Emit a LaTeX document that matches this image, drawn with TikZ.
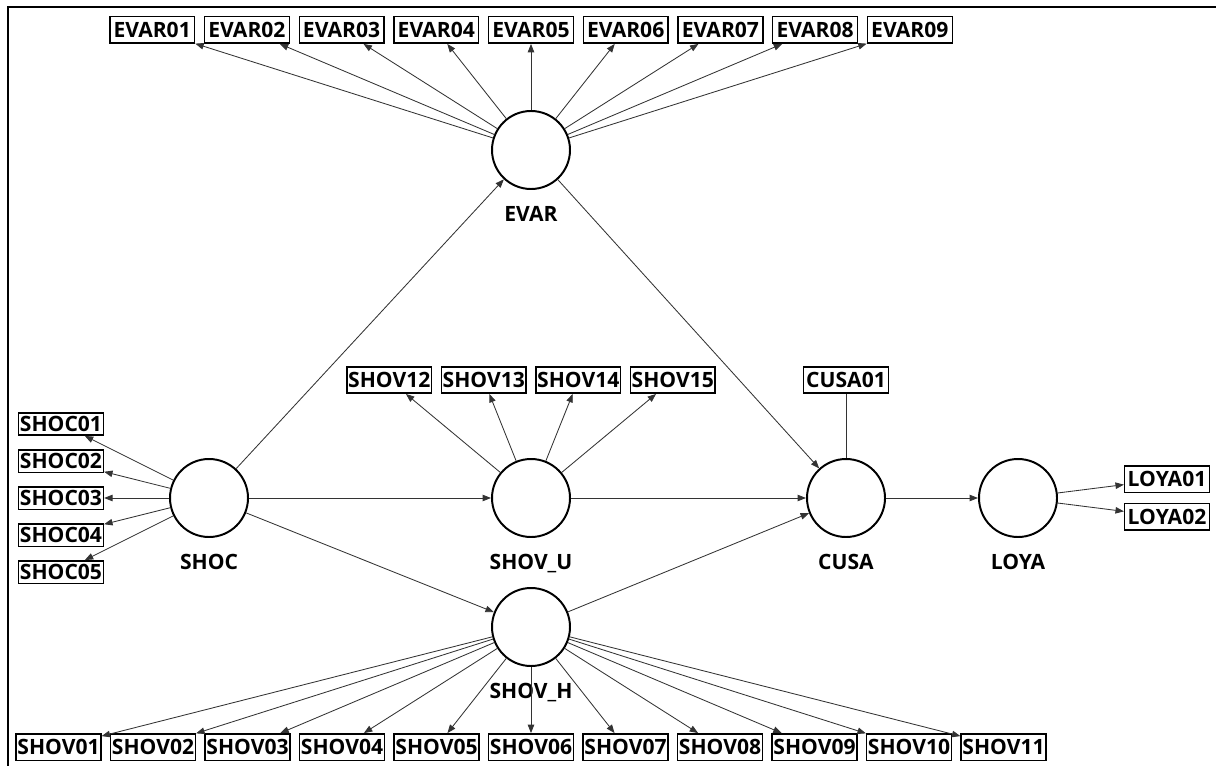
\documentclass[tikz,border=0pt]{standalone}
\usepackage{fontspec}
\setmainfont{Open Sans}
\usetikzlibrary{arrows.meta, positioning, calc}
\definecolor{kline}{HTML}{333333}

\begin{document}
\begin{tikzpicture}[x=1cm, y=1cm,
  ind/.style={draw, line width=1pt, font=\fontsize{15}{17}\selectfont\bfseries,
    inner sep=0.5pt, minimum width=2.12cm, minimum height=0.66cm},
  lat/.style={draw, circle, line width=1.4pt, minimum size=1.95cm, inner sep=0pt},
  lbl/.style={font=\fontsize{15}{17}\selectfont\bfseries},
  rel/.style={draw=kline, line width=0.6pt, -{Triangle[length=6pt, width=4.6pt]}}]
\useasboundingbox (0,0) rectangle (30.4,19.125);
\clip (0,0) rectangle (30.4,19.125);
\draw[line width=1.5pt] (0.2,-1) rectangle (31,18.95);
\node[lat] (evar) at (13.275,15.375) {};
\node[lat] (shoc) at (5.225,6.675) {};
\node[lat] (shovu) at (13.275,6.675) {};
\node[lat] (cusa) at (21.15,6.675) {};
\node[lat] (loya) at (25.45,6.675) {};
\node[lat] (shovh) at (13.275,3.45) {};
\node[lbl, below=0.28cm of evar] (evarlbl) {EVAR};
\node[lbl, below=0.28cm of shoc] (shoclbl) {SHOC};
\node[lbl, below=0.28cm of shovu] (shovulbl) {SHOV\_U};
\node[lbl, below=0.28cm of cusa] (cusalbl) {CUSA};
\node[lbl, below=0.28cm of loya] (loyalbl) {LOYA};
\node[lbl, below=0.28cm of shovh] (shovhlbl) {SHOV\_H};
\foreach \i in {1,...,9}
  \node[ind] (evar0\i) at ({13.275+2.3675*(\i-5)},18.375) {EVAR0\i};
\foreach \i in {1,...,5}
  \node[ind, minimum height=0.56cm] (shoc0\i) at (1.525,{6.675-0.925*(\i-3)}) {SHOC0\i};
\foreach \t [count=\i] in {01,02,03,04,05,06,07,08,09,10,11}
  \node[ind] (shov\t) at ({13.275+2.3625*(\i-6)},0.45) {SHOV\t};
\foreach \t [count=\i] in {12,13,14,15}
  \node[ind] (shov\t) at ({13.275+2.3625*(\i-2.5)},9.625) {SHOV\t};
\node[ind] (cusa01) at (21.15,9.625) {CUSA01};
\node[ind] (loya01) at (29.175,7.145) {LOYA01};
\node[ind] (loya02) at (29.175,6.205) {LOYA02};
\foreach \i in {1,...,9} \draw[rel] (evar) -- (evar0\i);
\foreach \i in {1,...,5} \draw[rel] (shoc) -- (shoc0\i);
\foreach \t in {01,02,03,04,05,06,07,08,09,10,11} \draw[rel] (shovh) -- (shov\t);
\foreach \t in {12,13,14,15} \draw[rel] (shovu) -- (shov\t);
\draw[rel] (loya) -- (loya01);
\draw[rel] (loya) -- (loya02);
\draw[draw=kline, line width=0.6pt] (cusa01) -- (cusa);
\draw[rel] (shoc) -- (evar);
\draw[rel] (shoc) -- (shovu);
\draw[rel] (shoc) -- (shovh);
\draw[rel] (evar) -- (cusa);
\draw[rel] (shovu) -- (cusa);
\draw[rel] (shovh) -- (cusa);
\draw[rel] (cusa) -- (loya);
\end{tikzpicture}
\end{document}
